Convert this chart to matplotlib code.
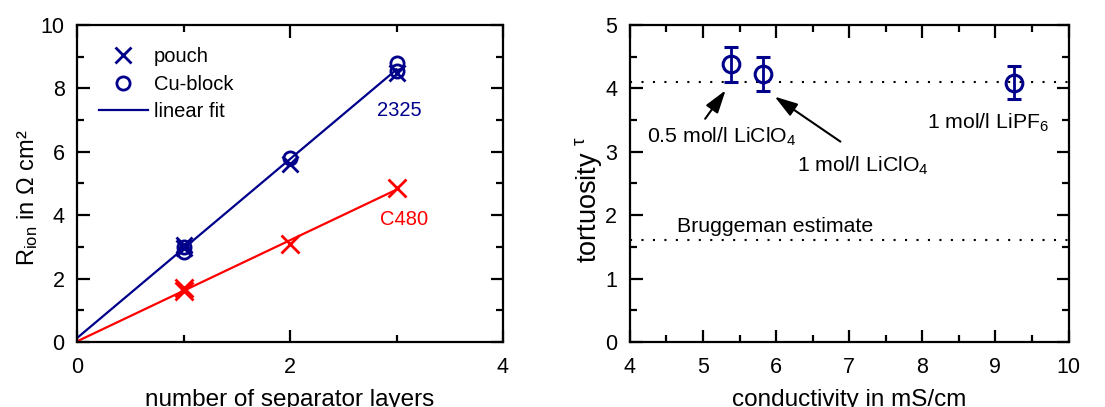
import numpy as np
import matplotlib
matplotlib.use('Agg')
import matplotlib.pyplot as plt
from matplotlib.ticker import MultipleLocator

plt.rcParams['font.family'] = ['Liberation Sans', 'DejaVu Sans']
plt.rcParams['mathtext.default'] = 'regular'

navy = '#00008B'
red = '#FF0000'

# left panel: ionic resistance vs number of separator layers
layers_2325_pouch = [1, 1, 2, 3]
r_2325_pouch = [3.05, 2.95, 5.6, 8.5]
layers_2325_cu = [1, 1, 2, 3, 3]
r_2325_cu = [2.85, 3.0, 5.8, 8.8, 8.55]
layers_c480 = [1, 1, 2, 3]
r_c480 = [1.6, 1.7, 3.1, 4.85]

# right panel: tortuosity vs conductivity
conductivity = [5.38, 5.82, 9.26]
tortuosity = [4.38, 4.23, 4.09]
tortuosity_err = [0.28, 0.27, 0.26]
tau_mean = 4.1
tau_bruggeman = 1.6

fig = plt.figure(figsize=(11.05, 4.07), dpi=100)
ax1 = fig.add_axes([0.0697, 0.160, 0.3855, 0.7786])
ax2 = fig.add_axes([0.570, 0.160, 0.397, 0.7786])

# linear fits
x_all = np.array(layers_2325_pouch + layers_2325_cu)
y_all = np.array(r_2325_pouch + r_2325_cu)
fit_2325 = np.polyfit(x_all, y_all, 1)
fit_c480 = np.polyfit(np.array([0] + layers_c480), np.array([0] + r_c480), 1)
xfit = np.array([0, 3])

ax1.plot(xfit, np.polyval(fit_2325, xfit), color=navy, lw=1.6, label='linear fit')
ax1.plot(xfit, np.polyval(fit_c480, xfit), color=red, lw=1.6)
ax1.plot(layers_2325_pouch, r_2325_pouch, 'x', color=navy, ms=12, mew=2, label='pouch')
ax1.plot(layers_2325_cu, r_2325_cu, 'o', color=navy, ms=9.5, mew=2, mfc='none', label='Cu-block')
ax1.plot(layers_c480, r_c480, 'x', color=red, ms=13, mew=2)

ax1.text(3.03, 7.3, '2325', color=navy, fontsize=14.5, ha='center', va='center')
ax1.text(3.07, 3.85, 'C480', color=red, fontsize=14.5, ha='center', va='center')

handles, labels = ax1.get_legend_handles_labels()
order = [1, 2, 0]
ax1.legend([handles[i] for i in order], [labels[i] for i in order],
           loc='upper left', bbox_to_anchor=(0.052, 0.93), frameon=False,
           fontsize=14.5, numpoints=1, handlelength=2.4, handletextpad=0.3,
           labelspacing=0.43, borderpad=0, borderaxespad=0)

ax1.set_xlim(0, 4)
ax1.set_ylim(0, 10)
ax1.xaxis.set_major_locator(MultipleLocator(2))
ax1.xaxis.set_minor_locator(MultipleLocator(1))
ax1.yaxis.set_major_locator(MultipleLocator(2))
ax1.yaxis.set_minor_locator(MultipleLocator(1))
ax1.set_xlabel('number of separator layers', fontsize=17.5, labelpad=8)
ax1.set_ylabel('R$_{ion}$ in Ω cm²', fontsize=17)
ax1.yaxis.set_label_coords(-0.087, 0.454)

# right panel
ax2.axhline(tau_mean, color='k', ls=(0, (1, 4.5)), lw=1.5)
ax2.axhline(tau_bruggeman, color='k', ls=(0, (1, 4.5)), lw=1.5)
ax2.errorbar(conductivity, tortuosity, yerr=tortuosity_err, fmt='o', color=navy,
             ms=12, mew=2.2, mfc='none', elinewidth=2, capsize=5, capthick=2)

ax2.text(4.64, 1.82, 'Bruggeman estimate', fontsize=15.3, va='center')
ax2.text(8.06, 3.45, '1 mol/l LiPF$_6$', fontsize=15.3, va='center')
ax2.text(4.23, 3.24, '0.5 mol/l LiClO$_4$', fontsize=15.3, va='center')
ax2.text(6.28, 2.77, '1 mol/l LiClO$_4$', fontsize=15.3, va='center')

arrow = dict(arrowstyle='-|>,head_length=0.7,head_width=0.22', color='k', lw=1.5,
             mutation_scale=20, shrinkA=0, shrinkB=0)
ax2.annotate('', xy=(5.31, 3.97), xytext=(5.03, 3.52), arrowprops=arrow)
ax2.annotate('', xy=(5.98, 3.87), xytext=(6.88, 3.16), arrowprops=arrow)

ax2.set_xlim(4, 10)
ax2.set_ylim(0, 5)
ax2.xaxis.set_major_locator(MultipleLocator(1))
ax2.xaxis.set_minor_locator(MultipleLocator(0.5))
ax2.yaxis.set_major_locator(MultipleLocator(1))
ax2.yaxis.set_minor_locator(MultipleLocator(0.5))
ax2.set_xlabel('conductivity in mS/cm', fontsize=17.5, labelpad=8)
ax2.set_ylabel('tortuosity $^{τ}$', fontsize=19.5)
ax2.yaxis.set_label_coords(-0.059, 0.45)

for ax in (ax1, ax2):
    for sp in ax.spines.values():
        sp.set_linewidth(1.6)
    ax.tick_params(which='both', direction='in', top=True, right=True, width=1.6,
                   labelsize=15.5)
    ax.tick_params(which='major', length=9)
    ax.tick_params(which='minor', length=5)
    ax.tick_params(axis='x', pad=11)
    ax.tick_params(axis='y', pad=9)

fig.savefig('out.png', dpi=100)
